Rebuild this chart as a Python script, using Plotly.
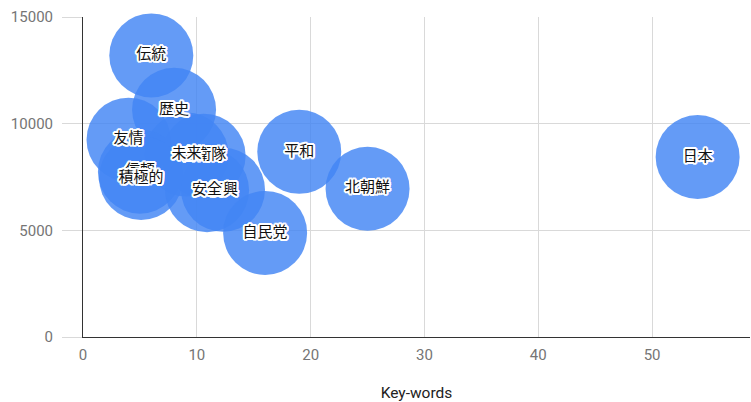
import plotly.graph_objects as go

labels = ["伝統", "歴史", "友情", "自衛隊", "未来", "信頼", "積極的", "復興", "安全", "平和", "北朝鮮", "自民党", "日本"]
x_vals = [6.0, 8.0, 4.0, 10.6, 9.1, 5.0, 5.1, 12.3, 10.9, 19.0, 25.0, 16.0, 54.0]
y_vals = [13200, 10650, 9250, 8500, 8550, 7750, 7450, 6900, 6880, 8680, 6950, 4880, 8440]
x_ticks = [0, 10, 20, 30, 40, 50]
y_ticks = [0, 5000, 10000, 15000]
y_tick_text = ["0", "5000", "10000", "15000"]

fig = go.Figure()
halo = ", ".join(f"{dx}px {dy}px 0.5px #fff" for dx, dy in
                 [(2, 0), (-2, 0), (0, 2), (0, -2), (1, 1), (-1, -1), (1, -1), (-1, 1),
                  (2, 1), (2, -1), (-2, 1), (-2, -1), (1, 2), (-1, 2), (1, -2), (-1, -2)])

# bubbles, one per point so later bubbles stack on earlier ones
for xv, yv in zip(x_vals, y_vals):
    fig.add_trace(go.Scatter(
        x=[xv], y=[yv], mode="markers",
        marker=dict(size=84, color="#4285F4", opacity=0.82, line=dict(width=0)),
        cliponaxis=False, showlegend=False, hoverinfo="skip",
    ))
# labels on top
for lab, xv, yv in zip(labels, x_vals, y_vals):
    fig.add_trace(go.Scatter(
        x=[xv], y=[yv], mode="text", text=[lab],
        textposition="middle center",
        textfont=dict(family="Noto Sans CJK JP", size=15, color="#111", shadow=halo),
        cliponaxis=False, showlegend=False, hoverinfo="skip",
    ))

fig.update_layout(
    width=751, height=402,
    margin=dict(l=83, r=1, t=17, b=65),
    plot_bgcolor="white", paper_bgcolor="white",
    font=dict(family="Roboto", size=15, color="#757575"),
    xaxis=dict(range=[0, 58.6], tickvals=x_ticks, showgrid=True, gridcolor="#d9d9d9",
               zeroline=False, showline=True, linecolor="#333", linewidth=1,
               ticks="", ticklabelstandoff=4,
               title=dict(text="Key-words", font=dict(color="#222", size=15.5), standoff=24),
               tickfont=dict(color="#757575", size=15)),
    yaxis=dict(range=[0, 15000], tickvals=y_ticks, ticktext=y_tick_text, showgrid=True,
               gridcolor="#d9d9d9", zeroline=False, showline=True, linecolor="#333", linewidth=1,
               ticks="outside", ticklen=20, tickcolor="#d9d9d9", ticklabelstandoff=6,
               tickfont=dict(color="#757575", size=15)),
)
fig.write_html("out.html")
